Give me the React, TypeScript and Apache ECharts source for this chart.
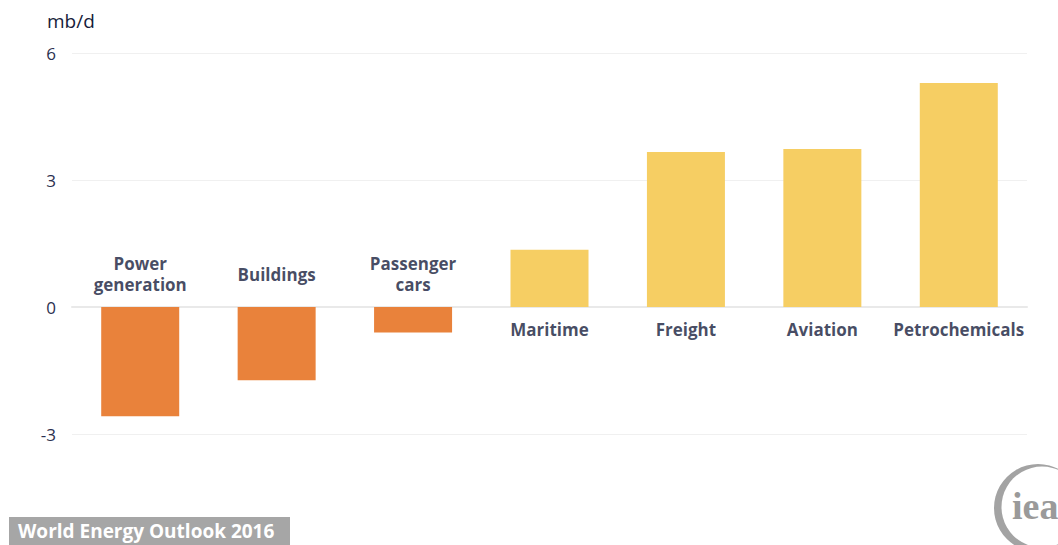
import React, { useEffect, useRef } from "react";
import * as echarts from "echarts";

const categories = [
  "Power\ngeneration",
  "Buildings",
  "Passenger\ncars",
  "Maritime",
  "Freight",
  "Aviation",
  "Petrochemicals",
];
const values = [-2.58, -1.73, -0.6, 1.35, 3.66, 3.73, 5.29];
const yTicks = [-3, 0, 3, 6];
const unitLabel = "mb/d";
const footerText = "World Energy Outlook 2016";

const NEG_COLOR = "#E9823B";
const POS_COLOR = "#F6CE63";
const TEXT_DARK = "#161c3b";

export default function App() {
  const ref = useRef<HTMLDivElement>(null);

  useEffect(() => {
    if (!ref.current) return;
    const chart = echarts.init(ref.current, undefined, { renderer: "svg" });

    const barData = values.map((v) => ({
      value: v,
      itemStyle: { color: v < 0 ? NEG_COLOR : POS_COLOR },
    }));
    const labelData = values.map((v, i) => ({
      value: 0,
      name: categories[i],
      label: { offset: [0, v < 0 ? -33 : 22] },
    }));

    chart.setOption({
      animation: false,
      backgroundColor: "#ffffff",
      grid: { left: 72, right: 31, top: 53, bottom: 111, containLabel: false },
      xAxis: {
        type: "category",
        data: categories,
        axisLine: { onZero: true, lineStyle: { color: "#e9e9e9", width: 2 } },
        axisTick: { show: false },
        axisLabel: { show: false },
        splitLine: { show: false },
      },
      yAxis: {
        type: "value",
        min: yTicks[0],
        max: yTicks[yTicks.length - 1],
        interval: 3,
        axisLine: { show: false },
        axisTick: { show: false },
        splitLine: { lineStyle: { color: "#f0f0f0", width: 1 } },
        axisLabel: {
          margin: 16,
          color: "#2b3050",
          fontFamily: "Open Sans",
          fontSize: 17,
        },
      },
      graphic: [
        {
          type: "text",
          left: 47,
          top: 11,
          style: {
            text: unitLabel,
            fill: TEXT_DARK,
            font: '500 19px "Open Sans"',
          },
        },
        {
          type: "rect",
          shape: { x: 9, y: 517, width: 281, height: 30 },
          style: { fill: "#a6a6a6" },
        },
        {
          type: "text",
          x: 18,
          y: 531,
          style: {
            text: footerText,
            fill: "#ffffff",
            font: 'bold 19px "Open Sans"',
            textVerticalAlign: "middle",
          },
        },
        {
          type: "circle",
          shape: { cx: 1038, cy: 508, r: 44 },
          style: { fill: "#a3a3a3" },
        },
        {
          type: "circle",
          shape: { cx: 1042, cy: 507, r: 40.5 },
          style: { fill: "#ffffff" },
        },
        {
          type: "text",
          x: 1012,
          y: 525,
          style: {
            text: "iea",
            fill: "#9a9a9a",
            font: 'bold 38px "Liberation Serif"',
            textVerticalAlign: "bottom",
          },
        },
      ],
      series: [
        {
          type: "bar",
          data: barData,
          barWidth: 78,
          silent: true,
        },
        {
          type: "scatter",
          data: labelData,
          symbolSize: 0,
          silent: true,
          z: 5,
          label: {
            show: true,
            position: "inside",
            formatter: (p: any) => p.name,
            color: TEXT_DARK,
            fontFamily: "Open Sans",
            fontWeight: "bold",
            fontSize: 17,
            lineHeight: 21,
            align: "center",
            verticalAlign: "middle",
          },
        },
      ],
    });

    return () => chart.dispose();
  }, []);

  return (
    <div
      ref={ref}
      style={{ position: "fixed", left: 0, top: 0, width: 1058, height: 545 }}
    />
  );
}
